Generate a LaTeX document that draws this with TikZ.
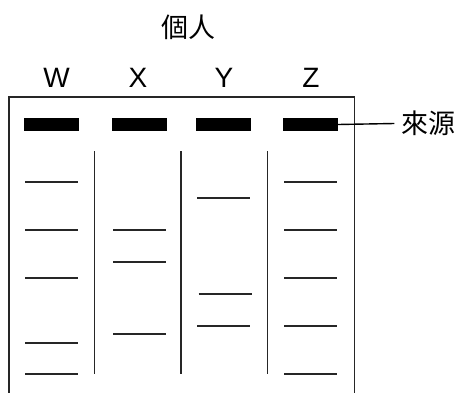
\documentclass[tikz,border=0pt]{standalone}
\usepackage{fontspec}
\setmainfont{Liberation Sans}
\newfontfamily\cjk{Noto Sans CJK TC}
\begin{document}
\begin{tikzpicture}[x=1pt,y=-1pt,
  lane/.style={font=\fontsize{28}{30}\selectfont, inner sep=0pt, anchor=base},
  cjklabel/.style={font=\cjk\fontsize{27}{30}\selectfont, inner sep=0pt},
  well/.style={fill=black, draw=none, minimum width=55pt, minimum height=13pt, inner sep=0pt},
  band/.style={line width=1.4pt, draw=black!85},
  divider/.style={line width=1.5pt, draw=black!85},
  frame/.style={line width=1.5pt, draw=black!85}]
\useasboundingbox (0,0) rectangle (460,393);
% titles
\node[cjklabel] (title) at (188.5,27) {個人};
\node[lane] (lw) at (56.5,88) {W};
\node[lane] (lx) at (138,88) {X};
\node[lane] (ly) at (224,88) {Y};
\node[lane] (lz) at (311,88) {Z};
% frame (open at bottom)
\coordinate (fbl) at (9,393);
\coordinate (ftl) at (9,97);
\coordinate (ftr) at (354.5,97);
\coordinate (fbr) at (354.5,393);
\draw[frame] (fbl) -- (ftl) -- (ftr) -- (fbr);
% wells
\node[well] (ww) at (51.5,124.5) {};
\node[well] (wx) at (139.5,124.5) {};
\node[well] (wy) at (223.5,124.5) {};
\node[well] (wz) at (310.5,124.5) {};
% source label
\node[cjklabel, inner xsep=7pt] (src) at (428.5,123.5) {來源};
\draw[line width=1.4pt] (wz.east) -- (src.west);
% dividers
\foreach \x/\n in {94.5/a,181/b,267.5/c}{
  \coordinate (d\n t) at (\x,151);
  \coordinate (d\n b) at (\x,374);
  \draw[divider] (d\n t) -- (d\n b);
}
% bands W
\foreach \y in {182,230,278,343,374}{
  \draw[band] (25,\y) -- (78,\y);
}
% bands X
\foreach \y in {230,262,334}{
  \draw[band] (113,\y) -- (166,\y);
}
% bands Y
\draw[band] (197,198) -- (250,198);
\draw[band] (198.5,294) -- (251.5,294);
\draw[band] (197,326) -- (250,326);
% bands Z
\foreach \y in {182,230,278,326,374}{
  \draw[band] (284,\y) -- (337,\y);
}
\end{tikzpicture}
\end{document}
